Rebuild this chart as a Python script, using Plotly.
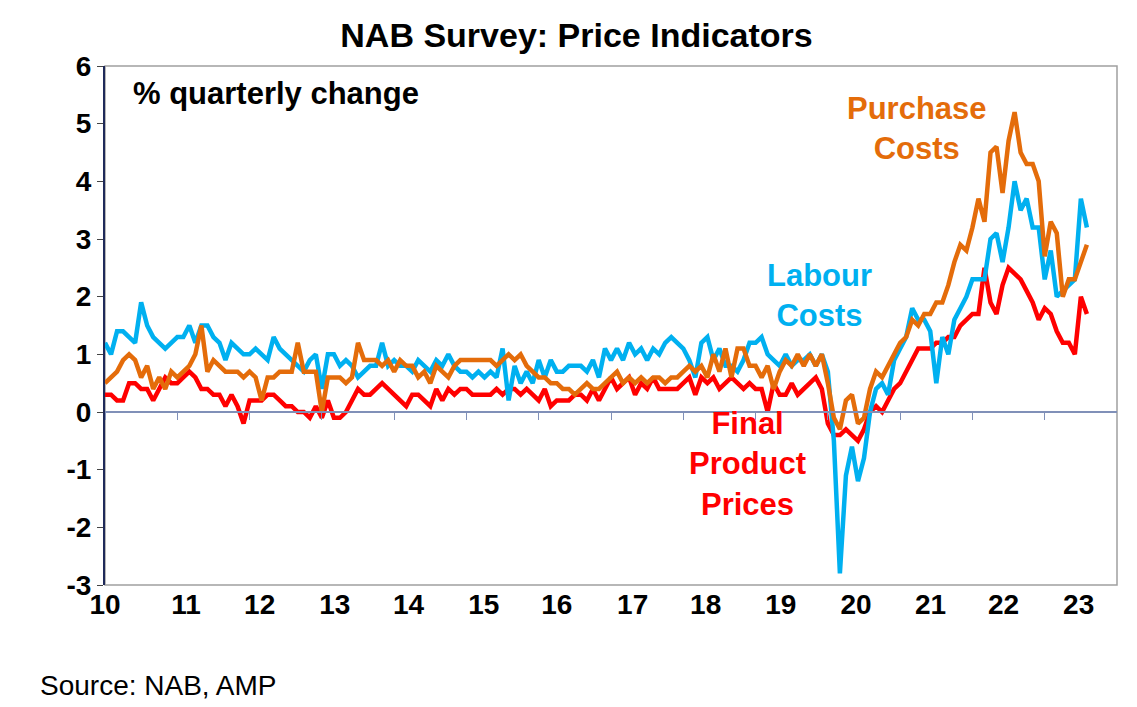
import numpy as np
import plotly.graph_objects as go

# monthly, Jan 2010 - Aug 2023
labour = [1.2, 1.0, 1.4, 1.4, 1.3, 1.2, 1.9, 1.5, 1.3, 1.2, 1.1, 1.2,
          1.3, 1.3, 1.5, 1.2, 1.5, 1.5, 1.3, 1.2, 0.9, 1.2, 1.1, 1.0,
          1.0, 1.1, 1.0, 0.9, 1.3, 1.1, 1.0, 0.9, 0.8, 0.7, 0.9, 1.0,
          0.4, 1.0, 1.0, 0.8, 0.9, 0.8, 0.6, 0.7, 0.8, 0.8, 1.2, 0.8,
          0.9, 0.8, 0.8, 0.7, 0.9, 0.8, 0.7, 0.9, 0.8, 1.0, 0.8, 0.7,
          0.7, 0.6, 0.7, 0.6, 0.7, 0.6, 1.1, 0.2, 0.8, 0.5, 0.7, 0.5,
          0.9, 0.6, 0.9, 0.7, 0.7, 0.8, 0.8, 0.8, 0.7, 0.9, 0.6, 1.1,
          0.9, 1.1, 0.9, 1.2, 1.0, 1.1, 0.9, 1.1, 1.0, 1.2, 1.3, 1.2,
          1.1, 0.9, 0.6, 1.2, 1.3, 0.9, 1.1, 0.8, 0.8, 0.7, 0.9, 1.2,
          1.2, 1.3, 1.0, 0.9, 0.8, 1.0, 0.8, 0.9, 0.9, 1.0, 0.8, 1.0,
          0.7, -0.5, -2.8, -1.1, -0.6, -1.2, -0.8, 0.0, 0.4, 0.5, 0.3, 0.9,
          1.1, 1.3, 1.8, 1.6, 1.6, 1.4, 0.5, 1.3, 1.0, 1.6, 1.8, 2.0,
          2.3, 2.3, 2.3, 3.0, 3.1, 2.6, 3.2, 4.0, 3.5, 3.7, 3.2, 3.2,
          2.3, 2.8, 2.0, 2.1, 2.2, 2.3, 3.7, 3.2]
purchase = [0.5, 0.6, 0.7, 0.9, 1.0, 0.9, 0.6, 0.8, 0.4, 0.6, 0.4, 0.7,
            0.6, 0.7, 0.8, 1.0, 1.5, 0.7, 0.9, 0.8, 0.7, 0.7, 0.7, 0.6,
            0.7, 0.6, 0.2, 0.6, 0.6, 0.7, 0.7, 0.7, 1.2, 0.7, 0.7, 0.7,
            0.0, 0.6, 0.6, 0.6, 0.5, 0.6, 1.2, 0.9, 0.9, 0.9, 0.8, 0.9,
            0.7, 0.9, 0.8, 0.8, 0.6, 0.7, 0.5, 0.8, 0.7, 0.6, 0.8, 0.9,
            0.9, 0.9, 0.9, 0.9, 0.9, 0.8, 0.9, 1.0, 0.9, 1.0, 0.8, 0.7,
            0.6, 0.6, 0.5, 0.5, 0.4, 0.4, 0.3, 0.4, 0.5, 0.4, 0.4, 0.5,
            0.6, 0.7, 0.5, 0.6, 0.5, 0.6, 0.5, 0.6, 0.6, 0.5, 0.6, 0.6,
            0.7, 0.8, 0.7, 0.8, 0.6, 1.0, 0.7, 1.1, 0.6, 1.1, 1.1, 0.8,
            0.8, 0.6, 0.8, 0.4, 0.7, 0.9, 0.8, 1.0, 0.8, 1.0, 0.8, 1.0,
            0.5, -0.1, -0.3, 0.2, 0.3, -0.2, -0.1, 0.4, 0.7, 0.6, 0.8, 1.0,
            1.2, 1.3, 1.6, 1.5, 1.7, 1.7, 1.9, 1.9, 2.2, 2.6, 2.9, 2.8,
            3.2, 3.7, 3.3, 4.5, 4.6, 3.8, 4.7, 5.2, 4.5, 4.3, 4.3, 4.0,
            2.7, 3.3, 3.1, 2.0, 2.3, 2.3, 2.6, 2.9]
final = [0.3, 0.3, 0.2, 0.2, 0.5, 0.5, 0.4, 0.4, 0.2, 0.4, 0.6, 0.5,
         0.5, 0.6, 0.7, 0.6, 0.4, 0.4, 0.3, 0.3, 0.1, 0.3, 0.1, -0.2,
         0.2, 0.2, 0.2, 0.3, 0.3, 0.2, 0.1, 0.1, 0.0, 0.0, -0.1, 0.1,
         -0.1, 0.2, -0.1, -0.1, 0.0, 0.2, 0.4, 0.3, 0.3, 0.4, 0.5, 0.4,
         0.3, 0.2, 0.1, 0.3, 0.3, 0.2, 0.1, 0.4, 0.2, 0.4, 0.3, 0.4,
         0.4, 0.3, 0.3, 0.3, 0.3, 0.4, 0.3, 0.4, 0.4, 0.3, 0.4, 0.3,
         0.2, 0.4, 0.1, 0.2, 0.2, 0.2, 0.3, 0.3, 0.2, 0.4, 0.2, 0.4,
         0.6, 0.4, 0.5, 0.6, 0.3, 0.5, 0.4, 0.6, 0.4, 0.4, 0.4, 0.4,
         0.5, 0.6, 0.3, 0.6, 0.5, 0.6, 0.4, 0.5, 0.6, 0.5, 0.4, 0.5,
         0.4, 0.4, 0.0, 0.5, 0.3, 0.3, 0.5, 0.3, 0.4, 0.5, 0.6, 0.4,
         -0.2, -0.4, -0.4, -0.3, -0.4, -0.5, -0.3, 0.0, 0.1, 0.0, 0.2, 0.4,
         0.5, 0.7, 0.9, 1.1, 1.1, 1.1, 1.2, 1.2, 1.3, 1.3, 1.5, 1.6,
         1.7, 1.7, 2.5, 1.9, 1.7, 2.2, 2.5, 2.4, 2.3, 2.1, 1.9, 1.6,
         1.8, 1.7, 1.4, 1.2, 1.2, 1.0, 2.0, 1.7]

x = 2010 + np.arange(len(labour)) / 12
years = list(range(2010, 2024))
tick_labels = [str(y)[2:] for y in years]
label_pos = [2010.0, 2011.12, 2012.14, 2013.18, 2014.2, 2015.24, 2016.25,
             2017.3, 2018.31, 2019.35, 2020.39, 2021.42, 2022.43, 2023.47]

BLUE, ORANGE, RED = "#00B0F0", "#E46C0A", "#FF0000"
FONT = "Liberation Sans, Arial"

fig = go.Figure()
fig.add_trace(go.Scatter(x=x, y=final, mode="lines", line=dict(color=RED, width=4.5)))
fig.add_trace(go.Scatter(x=x, y=labour, mode="lines", line=dict(color=BLUE, width=4.5)))
fig.add_trace(go.Scatter(x=x, y=purchase, mode="lines", line=dict(color=ORANGE, width=4.5)))
# invisible trace for the zero-line axis with year ticks
fig.add_trace(go.Scatter(x=[2010, 2024], y=[0, 0], mode="lines", xaxis="x2",
                         line=dict(width=0), hoverinfo="skip"))

fig.update_layout(
    width=1137, height=707, showlegend=False,
    paper_bgcolor="white", plot_bgcolor="white",
    margin=dict(l=97, r=28, t=58, b=130),
    font=dict(family=FONT, color="black"),
    title=dict(text="<b>NAB Survey: Price Indicators</b>", x=0.5, xanchor="center",
               y=0.962, yanchor="middle", font=dict(size=34)),
    xaxis=dict(range=[2010, 2024], tickmode="array", tickvals=label_pos,
               ticktext=[f"<b>{t}</b>" for t in tick_labels], ticks="", showgrid=False,
               showline=False, zeroline=False, tickfont=dict(size=28), automargin=False),
    xaxis2=dict(range=[2010, 2024], overlaying="x", anchor="free", position=1/3,
                showline=True, linecolor="#8090B8", linewidth=2, ticks="outside",
                tickvals=years, ticklen=7, tickcolor="#8090B8", showticklabels=False,
                showgrid=False, zeroline=False, automargin=False),
    yaxis=dict(range=[-3, 6], showgrid=False, zeroline=False, showline=True,
               linecolor="#1F2A5A", linewidth=2, ticks="outside", ticklen=6,
               tickfont=dict(size=28), automargin=False,
               tickvals=list(range(-3, 7)), ticktext=[f"<b>{v}</b>" for v in range(-3, 7)]),
    shapes=[dict(type="rect", xref="paper", yref="paper", x0=0, x1=1, y0=0, y1=1,
                 line=dict(color="#A0A0A0", width=1.5), layer="below")],
    annotations=[
        dict(text="<b>% quarterly change</b>", xref="paper", yref="paper", x=0.026, y=0.985,
             xanchor="left", yanchor="top", showarrow=False, font=dict(size=31)),
        dict(text="<b>Purchase<br>Costs</b>", x=2021.24, y=4.92, showarrow=False,
             font=dict(size=31, color=ORANGE)),
        dict(text="<b>Labour<br>Costs</b>", x=2019.89, y=2.02, showarrow=False,
             font=dict(size=31, color=BLUE)),
        dict(text="<b>Final<br>Product<br>Prices</b>", x=2018.89, y=-0.9, showarrow=False,
             font=dict(size=31, color=RED)),
        dict(text="Source: NAB, AMP", xref="paper", yref="paper", x=-0.066, y=-0.16,
             xanchor="left", yanchor="top", showarrow=False, font=dict(size=28)),
    ],
)

fig.write_html("out.html")
